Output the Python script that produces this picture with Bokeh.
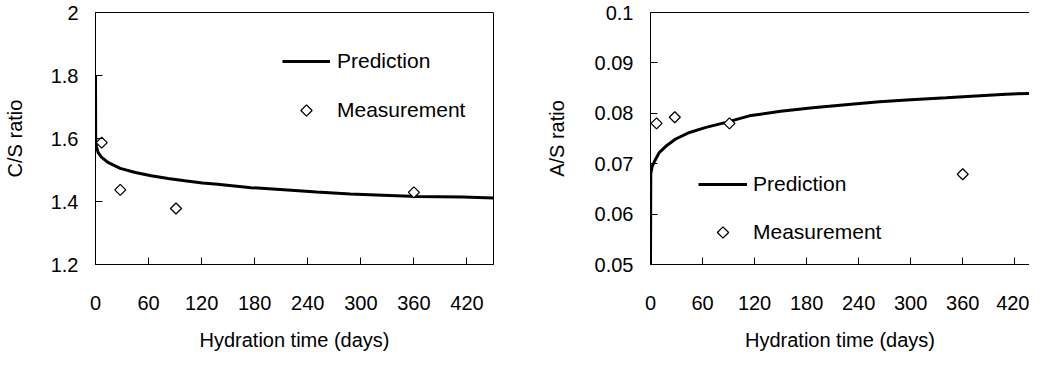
from bokeh.plotting import figure
from bokeh.layouts import row
from bokeh.models import FixedTicker, Legend, LegendItem, LinearAxis, Range1d, CustomJS
from bokeh.embed import file_html
from bokeh.resources import INLINE

# ---------------- data ----------------
x_ticks = [0, 60, 120, 180, 240, 300, 360, 420]
x_tick_labels = ["0", "60", "120", "180", "240", "300", "360", "420"]

meas_days = [7, 28, 91, 360]
cs_meas = [1.587, 1.437, 1.378, 1.429]
as_meas = [0.0780, 0.0792, 0.0780, 0.0679]

cs_pred_days = [0, 0.2, 1, 3, 7, 14, 28, 45, 63, 82, 101, 121, 138, 176, 213,
                250, 288, 325, 363, 415, 460]
cs_pred = [1.80, 1.60, 1.575, 1.555, 1.540, 1.524, 1.505, 1.492, 1.482, 1.473,
           1.466, 1.459, 1.455, 1.444, 1.437, 1.430, 1.424, 1.420, 1.416, 1.414, 1.410]

as_pred_days = [0, 0.3, 2, 5, 10, 18, 29, 45, 64, 87, 114, 150, 187, 225, 264,
                300, 341, 380, 410, 450]
as_pred = [0.0490, 0.0680, 0.0695, 0.0706, 0.0722, 0.0735, 0.0749, 0.0762, 0.0772,
           0.0782, 0.0795, 0.0804, 0.0811, 0.0817, 0.0823, 0.0827, 0.0831, 0.0835,
           0.0838, 0.0840]

cs_ticks = [1.2, 1.4, 1.6, 1.8, 2.0]
cs_tick_labels = ["1.2", "1.4", "1.6", "1.8", "2"]
as_ticks = [0.05, 0.06, 0.07, 0.08, 0.09, 0.1]
as_tick_labels = ["0.05", "0.06", "0.07", "0.08", "0.09", "0.1"]

series_names = ["Prediction", "Measurement"]
x_title = "Hydration time (days)"

FONT = "Liberation Sans"

# open diamond (equal width and height), also used in the legend
DIAMOND = CustomJS(code="""
export default (args, obj, {ctx, i, r, visuals}) => {
  ctx.moveTo(0, -r)
  ctx.lineTo(r, 0)
  ctx.lineTo(0, r)
  ctx.lineTo(-r, 0)
  ctx.closePath()
  visuals.fill.apply(ctx, i)
  visuals.line.apply(ctx, i)
}
""")


def style_axis(ax, ticks, labels, label_standoff, title_standoff):
    ax.ticker = FixedTicker(ticks=ticks)
    ax.major_label_overrides = dict(zip(ticks, labels))
    ax.major_tick_in = 7
    ax.major_tick_out = 0
    ax.minor_tick_line_color = None
    ax.axis_line_color = "black"
    ax.axis_line_width = 1
    ax.major_tick_line_color = "black"
    ax.major_label_text_font = FONT
    ax.major_label_text_font_size = "20px"
    ax.major_label_text_color = "black"
    ax.axis_label_text_font = FONT
    ax.axis_label_text_font_size = "20px"
    ax.axis_label_text_font_style = "normal"
    ax.axis_label_text_color = "black"
    ax.major_label_standoff = label_standoff
    ax.axis_label_standoff = title_standoff


def make_panel(width, border_left, border_right, x_end, y_range, y_ticks, y_labels,
               y_title, pred_x, pred_y, meas_y, legend_loc, legend_spacing,
               glyph_w, standoff, y_title_standoff, outline=True):
    p = figure(width=width, height=356, output_backend="svg", toolbar_location=None,
               x_range=Range1d(0, x_end), y_range=Range1d(*y_range),
               min_border_left=border_left, min_border_right=border_right,
               min_border_top=12, min_border_bottom=92)
    p.grid.visible = False
    p.background_fill_color = "white"
    p.border_fill_color = "white"
    if outline:
        p.outline_line_color = "black"
        p.outline_line_width = 1
    else:
        p.outline_line_color = None
    style_axis(p.xaxis[0], x_ticks, x_tick_labels, 31, 16)
    p.xaxis[0].axis_label = x_title
    style_axis(p.yaxis[0], y_ticks, y_labels, 17, y_title_standoff)
    p.yaxis[0].axis_label = y_title

    ln = p.line(pred_x, pred_y, line_color="black", line_width=3)
    sc = p.scatter(meas_days, meas_y, marker="@diamond", defs={"@diamond": DIAMOND},
                   size=11, fill_color="white", line_color="black", line_width=1.3)

    lg = Legend(items=[LegendItem(label=series_names[0], renderers=[ln]),
                       LegendItem(label=series_names[1], renderers=[sc])],
                location=legend_loc, padding=0, margin=0, spacing=legend_spacing,
                glyph_width=glyph_w, glyph_height=28, label_height=28,
                label_standoff=standoff, border_line_color=None,
                background_fill_alpha=0, label_text_font=FONT,
                label_text_font_size="21px", label_text_color="black")
    p.add_layout(lg)
    return p


p1 = make_panel(513, 92, 20, 450, (1.2, 2.0), cs_ticks, cs_tick_labels, "C/S ratio",
                cs_pred_days, cs_pred, cs_meas, (187, 140), 21, 48, 7, 22)
p2 = make_panel(516, 137, 0, 437, (0.05, 0.1), as_ticks, as_tick_labels, "A/S ratio",
                as_pred_days, as_pred, as_meas, (48, 18), 20, 49, 6, 24, outline=False)

top = LinearAxis(ticker=FixedTicker(ticks=[]), major_tick_line_color=None,
                 minor_tick_line_color=None, major_label_text_font_size="0px",
                 axis_line_color="black", major_label_standoff=0)
p2.add_layout(top, "above")

layout = row(p1, p2)
open("out.html", "w").write(file_html(layout, INLINE))
